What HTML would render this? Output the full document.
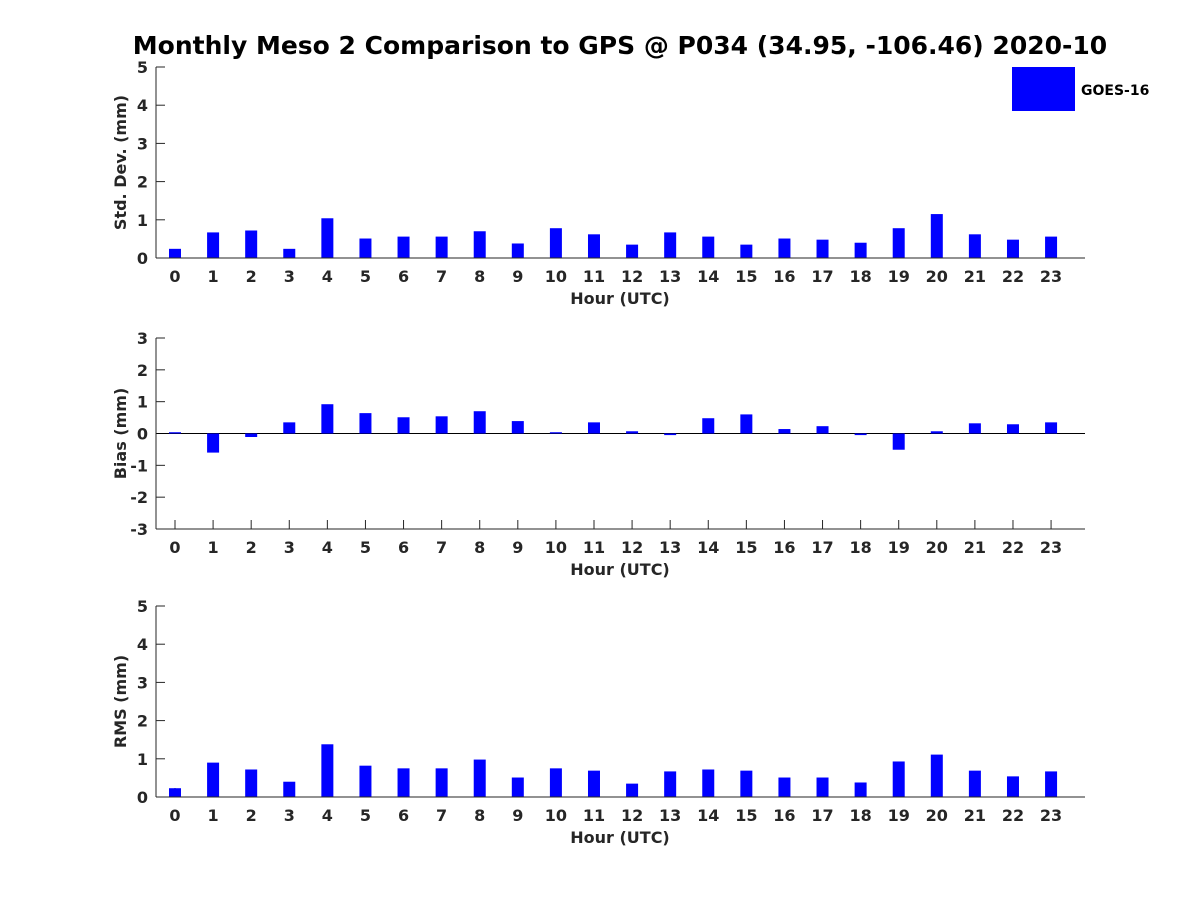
<!DOCTYPE html>
<html><head><meta charset="utf-8"><style>
body{margin:0;background:#fff;}
svg text{font-family:"DejaVu Sans","Liberation Sans",sans-serif;font-weight:bold;}
</style></head><body>
<svg id="chart" width="1200" height="900" xmlns="http://www.w3.org/2000/svg">
<rect width="1200" height="900" fill="#fff"/>
<text x="620" y="54" text-anchor="middle" font-size="25" fill="#000">Monthly Meso 2 Comparison to GPS @ P034 (34.95, -106.46) 2020-10</text>
<g>
<rect x="1012" y="67" width="63" height="44" fill="#0000ff"/>
<text x="1081" y="95" font-size="14" fill="#000">GOES-16</text>
</g>
</svg>
<script>
const hours = [0,1,2,3,4,5,6,7,8,9,10,11,12,13,14,15,16,17,18,19,20,21,22,23];
const stdDev = [0.24,0.67,0.72,0.24,1.04,0.51,0.56,0.56,0.70,0.38,0.78,0.62,0.35,0.67,0.56,0.35,0.51,0.48,0.40,0.78,1.15,0.62,0.48,0.56];
const bias = [0.04,-0.60,-0.11,0.35,0.92,0.64,0.51,0.54,0.70,0.39,0.04,0.35,0.07,-0.05,0.48,0.60,0.14,0.23,-0.05,-0.51,0.07,0.32,0.29,0.35];
const rms = [0.23,0.90,0.72,0.40,1.38,0.82,0.75,0.75,0.98,0.51,0.75,0.69,0.35,0.67,0.72,0.69,0.51,0.51,0.38,0.93,1.11,0.69,0.54,0.67];
const stdTicks = [0,1,2,3,4,5];
const biasTicks = [-3,-2,-1,0,1,2,3];
const rmsTicks = [0,1,2,3,4,5];

const NS = 'http://www.w3.org/2000/svg';
const svg = document.getElementById('chart');
function mk(tag, attrs, parent){
  const e = document.createElementNS(NS, tag);
  for (const k in attrs) e.setAttribute(k, attrs[k]);
  (parent||svg).appendChild(e);
  return e;
}
const X0 = 156, X1 = 1085;
function xScale(h){ return 175 + h * 38.09; }

function panel(name, top, bottom, ymin, ymax, ticks, values, ylabel){
  const g = mk('g', {});
  
  
  const y = v => bottom - (v - ymin) / (ymax - ymin) * (bottom - top);
  // ticks first (under bars)
  ticks.forEach(t => {
    mk('line', {x1: X0, y1: y(t), x2: X0 + 9, y2: y(t), stroke: '#262626'}, g);
    const tx = mk('text', {x: X0 - 8, y: y(t) + 6, 'text-anchor': 'end', 'font-size': 16, fill: '#262626'}, g);
    tx.textContent = t;
    
    
  });
  hours.forEach(h => {
    mk('line', {x1: xScale(h), y1: bottom, x2: xScale(h), y2: bottom - 9, stroke: '#262626'}, g);
    const tx = mk('text', {x: xScale(h), y: bottom + 24, 'text-anchor': 'middle', 'font-size': 16, fill: '#262626'}, g);
    tx.textContent = h;
    
    
  });
  if (ymin < 0) {
    const z = mk('line', {x1: X0, y1: y(0), x2: X1, y2: y(0), stroke: '#000', 'stroke-width': 1}, g);
    
    
  }
  values.forEach((v, i) => {
    const y0 = y(0), y1 = y(v);
    const r = mk('rect', {x: xScale(hours[i]) - 6, y: Math.min(y0, y1), width: 12, height: Math.max(Math.abs(y1 - y0), 0.5), fill: '#0000ff'}, g);
    
    
  });
  const ax = mk('line', {x1: X0, y1: top, x2: X0, y2: bottom, stroke: '#262626', 'stroke-width': 1}, g);
  
  
  const bx = mk('line', {x1: X0, y1: bottom, x2: X1, y2: bottom, stroke: '#262626', 'stroke-width': 1}, g);
  
  
  const xl = mk('text', {x: 620, y: bottom + 46, 'text-anchor': 'middle', 'font-size': 16, fill: '#262626'}, g);
  xl.textContent = 'Hour (UTC)';
  
  
  const cy = (top + bottom) / 2;
  const yl = mk('text', {x: 126, y: cy, 'text-anchor': 'middle', 'font-size': 16, fill: '#262626', transform: 'rotate(-90 126 ' + cy + ')'}, g);
  yl.textContent = ylabel;
  
  
}
panel('std-dev', 67, 258, 0, 5, stdTicks, stdDev, 'Std. Dev. (mm)');
panel('bias', 338, 529, -3, 3, biasTicks, bias, 'Bias (mm)');
panel('rms', 606, 797, 0, 5, rmsTicks, rms, 'RMS (mm)');
</script>
</body></html>
